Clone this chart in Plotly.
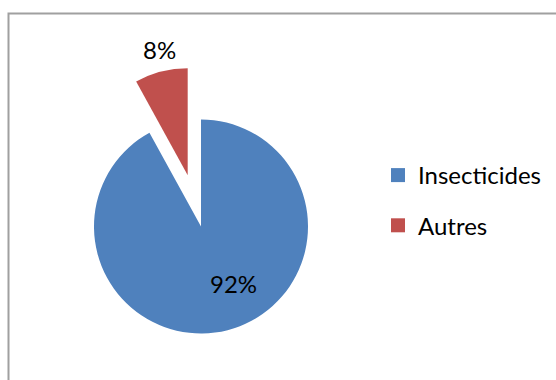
import plotly.graph_objects as go

# ---- data ----
labels = ["Insecticides", "Autres"]
values = [92, 8]
colors = ["#4F81BD", "#C0504D"]

W, H = 556, 380
FONT = "Lato"
FS = 24
TRANSP = "rgba(0,0,0,0)"


def px_dom_x(a, b):
    return [a / W, b / W]


def px_dom_y(top, bottom):
    return [1 - bottom / H, 1 - top / H]


R = 107
# main (blue) pie centre and exploded (red) slice vertex, in pixels
cxA, cyA = 201, 226.5
cxB, cyB = 187.7, 175.3

fig = go.Figure()

# main pie: Insecticides slice (the exploded slice is drawn by the second trace)
fig.add_trace(go.Pie(
    labels=labels, values=values,
    marker=dict(colors=[colors[0], TRANSP], line=dict(width=0)),
    sort=False, direction="clockwise", rotation=0,
    textinfo="none",
    domain=dict(x=px_dom_x(cxA - R, cxA + R), y=px_dom_y(cyA - R, cyA + R)),
    showlegend=False, hoverinfo="label+percent",
))

# exploded slice: Autres
fig.add_trace(go.Pie(
    labels=labels, values=values,
    marker=dict(colors=[TRANSP, colors[1]], line=dict(width=0)),
    sort=False, direction="clockwise", rotation=0,
    textinfo="none",
    domain=dict(x=px_dom_x(cxB - R, cxB + R), y=px_dom_y(cyB - R, cyB + R)),
    showlegend=False, hoverinfo="label+percent",
))

# legend entries
for i, (lab, col) in enumerate(zip(labels, colors)):
    fig.add_trace(go.Scatter(
        x=[None], y=[None], mode="markers", name=lab,
        marker=dict(symbol="square", size=14, color=col),
        legendgroup=f"g{i}", showlegend=True, hoverinfo="skip",
    ))

# data labels (percentages)
total = sum(values)
label_pos = [(233, 283), (159, 50)]  # pixel centres of the label texts
annotations = []
for v, (lx, ly) in zip(values, label_pos):
    annotations.append(dict(
        text=f"{round(100 * v / total)}%", showarrow=False,
        xref="paper", yref="paper", x=lx / W, y=1 - ly / H,
        xanchor="center", yanchor="middle",
        font=dict(family=FONT, size=FS, color="#000000"),
    ))

fig.update_layout(
    width=W, height=H,
    margin=dict(l=0, r=0, t=0, b=0),
    paper_bgcolor="white", plot_bgcolor="white",
    xaxis=dict(visible=False), yaxis=dict(visible=False),
    font=dict(family=FONT, size=FS, color="#000000"),
    legend=dict(
        x=378 / W, xanchor="left", y=1 - 153 / H, yanchor="top",
        traceorder="grouped", tracegroupgap=16,
        font=dict(family=FONT, size=FS, color="#000000"),
        bgcolor="rgba(0,0,0,0)", itemclick=False, itemdoubleclick=False,
    ),
    annotations=annotations,
    shapes=[dict(
        type="rect", xref="paper", yref="paper",
        x0=8.5 / W, y0=-0.05, x1=1.05, y1=1 - 13.5 / H,
        line=dict(color="#A0A0A0", width=2), fillcolor="rgba(0,0,0,0)",
        layer="below",
    )],
)

fig.write_html("out.html")
